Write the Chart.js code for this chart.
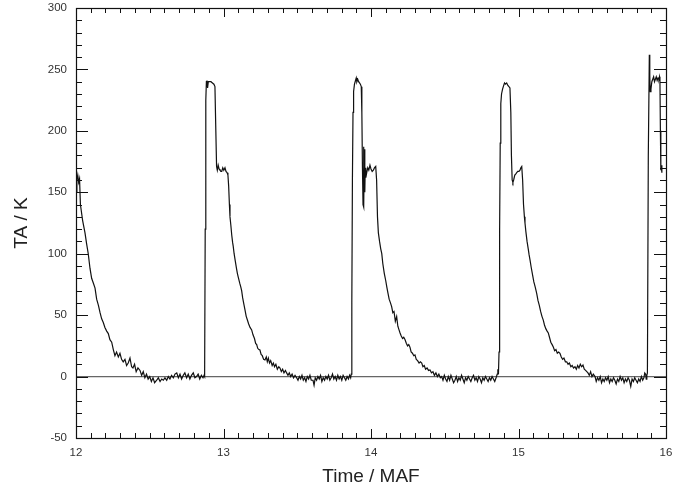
<!DOCTYPE html>
<html>
<head>
<meta charset="utf-8">
<script src="https://cdn.jsdelivr.net/npm/chart.js@4.4.0/dist/chart.umd.min.js"></script>
<style>
html,body{margin:0;padding:0;background:#fff;}
#wrap{width:694px;height:489px;position:relative;}
</style>
</head>
<body>
<div id="wrap"><canvas id="c" width="694" height="489"></canvas></div>
<script>
// ---- Data (Time / MAF, TA / K) ----
const xTickLabels = [12, 13, 14, 15, 16];
const yTickLabels = [-50, 0, 50, 100, 150, 200, 250, 300];

// cycle 0: decay from start, then baseline
const time0 = [12.000,12.006,12.012,12.018,12.024,12.030,12.045,12.061,12.072,12.083,12.095,12.106,12.118,12.129,12.140,12.152,12.163,12.174,12.185,12.196,12.208,12.219,12.230,12.242,12.253,12.264,12.275,12.287,12.298,12.309,12.320,12.332,12.343,12.354,12.366,12.377,12.386,12.397,12.408,12.420,12.434,12.445,12.456,12.467,12.478,12.489,12.500,12.511,12.522,12.533,12.547,12.558,12.570,12.581,12.592,12.603,12.615,12.626,12.637,12.648,12.660,12.671,12.683,12.694,12.705,12.716,12.727,12.738,12.750,12.761,12.772,12.783,12.795,12.806,12.817,12.828,12.839,12.850,12.861,12.868];
const ta0   = [150,160,164,158,161,140,127,117,108,100,88,80,76,72,63,58,52,47,44,40,37,35,30,28,22,17,20,16,19,14,12,14,9,11,15,8,7,10,4,7,5,1,4,-1,2,-2,0,-4,-1,-5,-3,-1,-4,-2,-3,-1,-3,0,-2,1,-1,2,3,-1,2,-2,1,3,-1,2,-2,1,3,-1,0,2,-2,1,-1,1];

// cycle 1
const time1 = [12.872,12.876,12.880,12.884,12.888,12.892,12.897,12.905,12.915,12.925,12.935,12.942,12.948,12.953,12.958,12.964,12.970,12.976,12.982,12.988,12.995,13.002,13.010,13.017,13.024,13.030,13.035,13.040,13.044,13.050,13.056,13.062,13.066,13.072,13.080,13.088,13.094,13.100,13.110,13.117,13.123,13.130,13.138,13.146,13.154,13.162,13.170,13.180,13.191,13.200,13.210,13.218,13.225,13.232,13.240,13.247,13.255,13.263,13.272,13.281,13.290,13.297,13.304,13.312,13.320,13.330,13.338,13.346,13.355,13.365,13.375,13.383,13.392,13.401,13.410,13.420,13.428,13.437,13.446,13.455,13.465,13.475,13.485,13.496,13.505,13.514,13.523,13.532,13.541,13.550,13.559,13.568,13.577,13.586,13.595,13.607,13.614,13.622,13.631,13.640,13.649,13.658,13.667,13.676,13.685,13.694,13.703,13.712,13.721,13.730,13.739,13.748,13.757,13.766,13.775,13.784,13.793,13.802,13.811,13.820,13.829,13.838,13.847,13.855,13.862];
const ta1   = [0,120,225,240,241,235,240,240,240,239,238,236,200,171,168,172,169,168,167,167,170,168,170,167,166,164,155,140,130,123,115,109,106,100,94,88,84,81,76,73,70,64,59,54,49,46,43,40,38,34,31,27,26,23,22,21.6,18,17,14,13.5,16,12,15,11,13,9,11,8,10,6,8,7,4,6,3,5,3,1,3,0,2,-1,1,-1,-3,0,-2,1,-3,-1,-4,0,-2,1,-3,-3,-7,-1,-3,0,-2,1,-4,-1,-3,0,-2,1,-3,-1,2,-2,0,-3,1,-2,0,-3,1,-1,-3,0,-2,1,-1];

// cycle 2
const time2 = [13.866,13.870,13.874,13.878,13.882,13.888,13.895,13.900,13.904,13.910,13.916,13.922,13.928,13.934,13.938,13.942,13.946,13.949,13.952,13.955,13.958,13.961,13.965,13.971,13.978,13.985,13.993,14.000,14.008,14.016,14.024,14.032,14.038,14.044,14.050,14.058,14.066,14.073,14.080,14.090,14.100,14.107,14.115,14.123,14.132,14.140,14.148,14.156,14.165,14.174,14.182,14.190,14.197,14.205,14.214,14.222,14.231,14.240,14.248,14.256,14.264,14.272,14.281,14.290,14.298,14.307,14.316,14.326,14.335,14.344,14.352,14.361,14.370,14.380,14.390,14.400,14.410,14.420,14.430,14.440,14.450,14.460,14.470,14.479,14.488,14.497,14.506,14.515,14.524,14.533,14.542,14.551,14.560,14.569,14.578,14.587,14.596,14.605,14.614,14.623,14.632,14.641,14.650,14.659,14.668,14.677,14.686,14.695,14.704,14.713,14.722,14.731,14.740,14.749,14.758,14.767,14.776,14.785,14.794,14.803,14.812,14.821,14.830,14.839,14.848,14.856,14.860,14.864];
const ta2   = [2,60,160,215,232,238,241,243,240,242,240,239,238,236,215,170,140,187,138,185,150,170,162,166,170,168,172,169,167,168,170,171,160,130,117,110,104,100,92,84,78,73,68,63,60,57,52,53,45,48.8,41,38,35.5,33,31,32,30,27,25,26,24,20,19,17,17.6,14,13,11,12,11,8,9,6,7,5,5.4,3,4,1,3,0,2,-1,0,-3,1,-2,-4,0,-3,1,-2,-5,-3,0,-4,-1,-3,1,-2,-5,-1,-3,0,-2,-4,-1,1,-3,-1,-4,0,-2,-5,-1,-3,0,-2,-4,-1,-3,0,-2,-4,-1,2,6,2];

// cycle 3
const time3 = [14.868,14.872,14.876,14.880,14.885,14.892,14.897,14.905,14.912,14.920,14.928,14.935,14.942,14.948,14.952,14.957,14.962,14.967,14.975,14.982,14.988,14.995,15.003,15.010,15.016,15.022,15.028,15.034,15.040,15.044,15.050,15.058,15.066,15.072,15.078,15.086,15.095,15.104,15.113,15.123,15.132,15.141,15.150,15.159,15.168,15.176,15.185,15.194,15.202,15.210,15.219,15.228,15.236,15.245,15.254,15.263,15.272,15.281,15.290,15.299,15.308,15.318,15.327,15.336,15.345,15.355,15.364,15.373,15.383,15.392,15.401,15.410,15.419,15.428,15.437,15.446,15.455,15.463,15.471,15.480,15.489,15.498,15.507,15.519,15.527,15.536,15.545,15.554,15.563,15.572,15.581,15.590,15.599,15.608,15.617,15.626,15.635,15.644,15.653,15.662,15.671,15.680,15.689,15.698,15.707,15.716,15.725,15.734,15.743,15.752,15.761,15.770,15.779,15.788,15.797,15.806,15.815,15.824,15.833,15.842,15.850,15.856];
const ta3   = [20,120,190,222,230,234,236,239,238,239,237,236,235,215,180,160,158,160,164,165,166,167,167,168,170,171,160,140,130,125,118,110,104,99,95,89,83,77,73,68,62,58,53,49,46,42,39,37,35.5,32,28,26,24,21,22,19,20,19,16,14,15,12,12,10,11,8,9,7,8,6,9,7,10,8,9.4,6,5,4,3,1,4,0,2,0,-4,-1,-3,0,-5,-2,-4,-1,-3,0,-5,-2,-4,-1,-3,-6,-2,-4,0,-3,-1,-5,-2,-4,-1,-3,-8,-2,-4,-1,-3,-5,-2,-4,0,-3,-1,3];

// cycle 4 (cut by the right edge)
const time4 = [15.862,15.866,15.870,15.874,15.880,15.887,15.890,15.893,15.898,15.904,15.910,15.916,15.922,15.928,15.934,15.940,15.946,15.952,15.956,15.959,15.962,15.965,15.968,15.972];
const ta4   = [2,-2,1,3,180,262,245,232,234,240,242,244,240,242,244,241,243,242,244,240,200,168,172,166];

// ---- Build points for the library ----
const times = [].concat(time0, time1, time2, time3, time4);
const values = [].concat(ta0, ta1, ta2, ta3, ta4);
const points = times.map((t, i) => ({x: t, y: values[i]}));

const FONT = '"Liberation Sans", Arial, Helvetica, sans-serif';

// inside ticks on all four sides + frame
const frameTicks = {
  id: 'frameTicks',
  afterDraw(chart) {
    const {ctx, chartArea: a, scales} = chart;
    const xs = scales.x, ys = scales.y;
    ctx.save();
    ctx.strokeStyle = '#111';
    ctx.lineWidth = 1;
    ctx.beginPath();
    for (let k = 0; k <= 40; k++) {
      const v = 12 + k / 10;
      const px = Math.round(xs.getPixelForValue(v)) + 0.5;
      const len = (k % 10 === 0) ? 9 : 5;
      ctx.moveTo(px, a.bottom); ctx.lineTo(px, a.bottom - len);
      ctx.moveTo(px, a.top); ctx.lineTo(px, a.top + len);
    }
    for (let k = 0; k <= 35; k++) {
      const v = -50 + k * 10;
      const py = Math.round(ys.getPixelForValue(v)) + 0.5;
      const len = (k % 5 === 0) ? 12 : 6;
      ctx.moveTo(a.left, py); ctx.lineTo(a.left + len, py);
      ctx.moveTo(a.right, py); ctx.lineTo(a.right - len, py);
    }
    ctx.stroke();
    ctx.lineWidth = 1.2;
    ctx.strokeRect(Math.round(a.left) + 0.5, Math.round(a.top) + 0.5, Math.round(a.right - a.left), Math.round(a.bottom - a.top));
    ctx.restore();
  }
};

new Chart(document.getElementById('c'), {
  type: 'line',
  data: {
    datasets: [{
      data: points,
      borderColor: '#111',
      borderWidth: 1.2,
      pointRadius: 0,
      tension: 0,
      fill: false
    }]
  },
  options: {
    responsive: false,
    animation: false,
    layout: {padding: {top: 8, right: 28, left: 0, bottom: 0}},
    plugins: {legend: {display: false}, tooltip: {enabled: false}},
    scales: {
      x: {
        type: 'linear',
        min: 12, max: 16,
        afterBuildTicks(s) { s.ticks = xTickLabels.map(v => ({value: v})); },
        afterFit(s) { s.height = 51; s.paddingLeft = 0; s.paddingRight = 0; },
        border: {display: false},
        grid: {display: false, drawTicks: false},
        ticks: {color: '#333', font: {family: FONT, size: 11.5}, padding: 8, maxRotation: 0},
        title: {display: true, text: 'Time / MAF', color: '#222', font: {family: FONT, size: 19}, padding: {top: 0, bottom: 1}}
      },
      y: {
        type: 'linear',
        min: -50, max: 300,
        afterBuildTicks(s) { s.ticks = yTickLabels.map(v => ({value: v})); },
        afterFit(s) { s.width = 76; s.paddingTop = 0; s.paddingBottom = 0; },
        border: {display: false},
        grid: {
          drawTicks: false,
          lineWidth: 1.2,
          color: c => (c.tick && c.tick.value === 0) ? '#666' : 'rgba(0,0,0,0)'
        },
        ticks: {color: '#333', font: {family: FONT, size: 11.5}, padding: 9},
        title: {display: true, text: 'TA / K', color: '#222', font: {family: FONT, size: 19}, padding: {top: 10, bottom: 0}}
      }
    }
  },
  plugins: [frameTicks]
});
</script>
</body>
</html>
